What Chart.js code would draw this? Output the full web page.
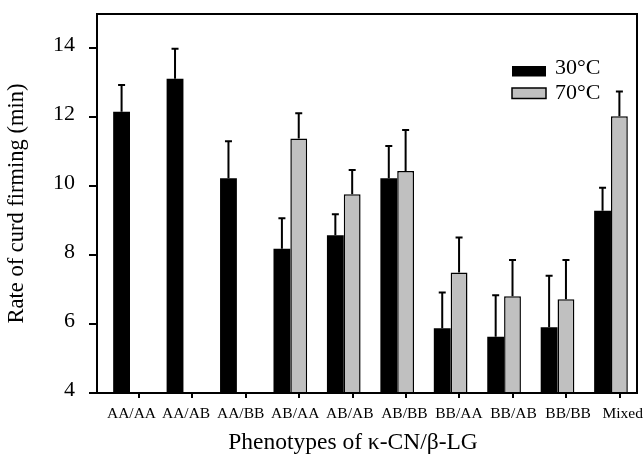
<!DOCTYPE html>
<html>
<head>
<meta charset="utf-8">
<script src="https://cdn.jsdelivr.net/npm/chart.js@4/dist/chart.umd.min.js"></script>
<style>html,body{margin:0;padding:0;background:#fff;}canvas{display:block;}</style>
</head>
<body>
<canvas id="c" width="643" height="455"></canvas>
<script>
// ---- data ----
const categories = ['AA/AA','AA/AB','AA/BB','AB/AA','AB/AB','AB/BB','BB/AA','BB/AB','BB/BB','Mixed'];
const temp30 = [12.16, 13.12, 10.23, 8.19, 8.58, 10.23, 5.88, 5.63, 5.91, 9.29];
const err30  = [0.78, 0.87, 1.08, 0.88, 0.61, 0.94, 1.04, 1.21, 1.49, 0.67];
const temp70 = [null, null, null, 11.39, 9.77, 10.44, 7.50, 6.81, 6.72, 12.03];
const err70  = [null, null, null, 0.73, 0.70, 1.19, 1.01, 1.05, 1.14, 0.72];
const yTicks = [4, 6, 8, 10, 12, 14];
const seriesLabels = ['30°C', '70°C'];
const yTitle = 'Rate of curd firming (min)';
const xTitle = 'Phenotypes of κ-CN/β-LG';

const FONT = '"Liberation Serif", "Times New Roman", Times, serif';

const errorBars = {
  id: 'errorBars',
  afterDatasetsDraw(chart) {
    const ctx = chart.ctx, ys = chart.scales.y, a = chart.chartArea;
    ctx.save();
    // frame
    ctx.strokeStyle = '#000';
    ctx.lineWidth = 2;
    ctx.strokeRect(a.left, a.top, a.right - a.left, a.bottom - a.top);
    // error bars (upper only)
    chart.data.datasets.forEach((ds, di) => {
      const meta = chart.getDatasetMeta(di);
      meta.data.forEach((el, i) => {
        const v = ds.data[i].y, e = ds.errors[i];
        if (v == null || e == null) return;
        const top = ys.getPixelForValue(v + e);
        ctx.beginPath();
        ctx.moveTo(el.x, el.y);
        ctx.lineTo(el.x, top);
        ctx.moveTo(el.x - 3.5, top);
        ctx.lineTo(el.x + 3.5, top);
        ctx.stroke();
      });
    });
    ctx.restore();
  }
};

const legendAndTitle = {
  id: 'legendAndTitle',
  afterDraw(chart) {
    const ctx = chart.ctx;
    ctx.save();
    const rows = [{y: 66, ty: 68}, {y: 88, ty: 93}];
    chart.data.datasets.forEach((ds, i) => {
      const r = rows[i];
      ctx.fillStyle = ds.backgroundColor;
      ctx.fillRect(512, r.y, 34, 10.5);
      if (i === 1) {
        ctx.strokeStyle = '#000';
        ctx.lineWidth = 1.5;
        ctx.strokeRect(512, r.y, 34, 10.5);
      }
      ctx.fillStyle = '#000';
      ctx.font = '22px ' + FONT;
      ctx.textAlign = 'left';
      ctx.textBaseline = 'middle';
      ctx.fillText(ds.label, 555, r.ty);
    });
    ctx.font = '23.5px ' + FONT;
    ctx.textAlign = 'center';
    ctx.textBaseline = 'middle';
    ctx.fillText(xTitle, 353, 443);
    ctx.restore();
  }
};

new Chart(document.getElementById('c'), {
  type: 'bar',
  data: {
    datasets: [
      {
        label: seriesLabels[0],
        data: temp30.map((v, i) => ({x: i, y: v})),
        errors: err30,
        backgroundColor: '#000000',
        borderColor: '#000000',
        borderWidth: 0
      },
      {
        label: seriesLabels[1],
        data: temp70.map((v, i) => ({x: i, y: v})),
        errors: err70,
        backgroundColor: '#c0c0c0',
        borderColor: '#000000',
        borderWidth: 1.5
      }
    ]
  },
  options: {
    responsive: false,
    animation: false,
    devicePixelRatio: 1,
    categoryPercentage: 0.63,
    barPercentage: 1,
    layout: {padding: {top: 14, right: 6, left: 0, bottom: 0}},
    plugins: {legend: {display: false}, tooltip: {enabled: false}},
    scales: {
      x: {
        type: 'linear',
        position: 'bottom',
        offset: false,
        min: -0.6175,
        max: 9.487,
        weight: 0,
        afterBuildTicks: s => { s.ticks = categories.map((_, i) => ({value: i + 0.165})); },
        afterFit: s => { s.height = 5; s.paddingLeft = 0; s.paddingRight = 0; },
        ticks: {display: false},
        grid: {offset: false, drawOnChartArea: false, drawTicks: true, tickLength: 5, color: '#000', lineWidth: 2},
        border: {display: true, color: '#000', width: 2}
      },
      xl: {
        type: 'linear',
        position: 'bottom',
        axis: 'x',
        offset: false,
        min: -0.632,
        max: 9.262,
        weight: 1,
        afterBuildTicks: s => { s.ticks = categories.map((_, i) => ({value: i})); },
        afterFit: s => { s.height = 57; s.paddingLeft = 0; s.paddingRight = 0; },
        ticks: {
          autoSkip: false, maxRotation: 0, minRotation: 0, padding: 6.5, color: '#000',
          font: {family: FONT, size: 15.5},
          callback: (v, i) => categories[i]
        },
        grid: {offset: false, display: false, drawTicks: false},
        border: {display: false}
      },
      y: {
        type: 'linear',
        position: 'left',
        min: 4,
        max: 15,
        afterBuildTicks: s => { s.ticks = yTicks.map(v => ({value: v})); },
        afterFit: s => { s.width = 97; s.paddingTop = 0; s.paddingBottom = 0; },
        ticks: {padding: 14, color: '#000', labelOffset: -3, font: {family: FONT, size: 22}},
        grid: {drawOnChartArea: false, drawTicks: true, tickLength: 8, color: '#000', lineWidth: 2},
        border: {display: true, color: '#000', width: 2},
        title: {
          display: true, text: yTitle, color: '#000',
          font: {family: FONT, size: 22.5, lineHeight: 1},
          padding: {top: 6, bottom: 0}
        }
      }
    }
  },
  plugins: [errorBars, legendAndTitle]
});
</script>
</body>
</html>
